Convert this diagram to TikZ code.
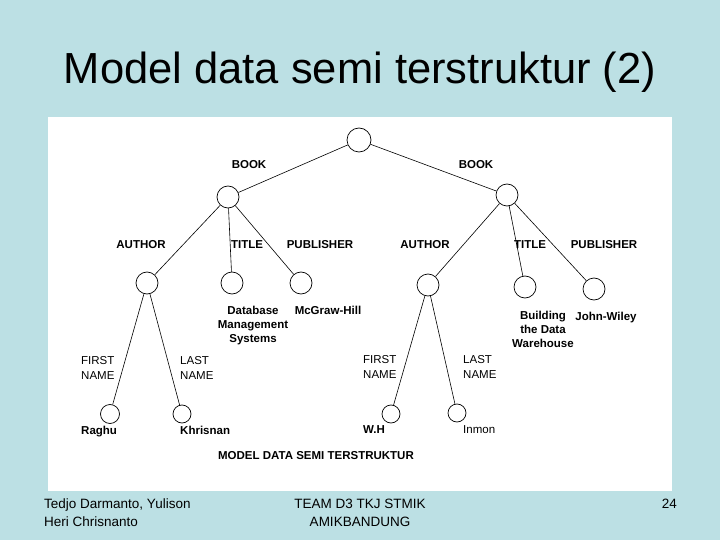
\documentclass[tikz,border=0pt]{standalone}
\usepackage{fontspec}
\setmainfont{Liberation Sans}
\definecolor{slidebg}{RGB}{188,224,228}
\begin{document}
\begin{tikzpicture}[x=1pt,y=-1pt,
  nd/.style={circle,draw=black,line width=0.7pt,inner sep=0pt,minimum size=#1},
  nd/.default=22pt,
  lbl/.style={font=\fontsize{11.5}{14}\selectfont\bfseries,inner sep=0pt,align=center},
  lbn/.style={font=\fontsize{11.5}{15}\selectfont,inner sep=0pt,align=left},
  edge/.style={draw=black,line width=0.6pt},
  foot/.style={font=\fontsize{13.5}{18}\selectfont,inner sep=0pt}]
\fill[slidebg] (0,0) rectangle (720,540);
\useasboundingbox (0,0) rectangle (720,540);
\fill[white] (48,117) rectangle (672,491);
\node[font=\fontsize{43.5}{50}\selectfont,inner sep=0pt,anchor=base] (title) at (360,84) {Model data semi terstruktur (2)};
% nodes
\node[nd=24pt] (root) at (359,140) {};
\node[nd] (bl) at (228,197) {};
\node[nd] (br) at (507,195) {};
\node[nd] (al) at (147,283) {};
\node[nd] (tl) at (232,283) {};
\node[nd] (pl) at (301,283) {};
\node[nd] (ar) at (428,285) {};
\node[nd] (tr) at (525,287) {};
\node[nd] (pr) at (594,289) {};
\node[nd=19pt] (l1) at (110,414) {};
\node[nd=18pt] (l2) at (182,414) {};
\node[nd=18pt] (l3) at (391,414) {};
\node[nd=18pt] (l4) at (457,413) {};
% edges
\draw[edge] (root) -- (bl);
\draw[edge] (root) -- (br);
\draw[edge] (bl) -- (al);
\draw[edge] (bl) -- (tl);
\draw[edge] (bl) -- (pl);
\draw[edge] (br) -- (ar);
\draw[edge] (br) -- (tr);
\draw[edge] (br) -- (pr);
\draw[edge] (al) -- (l1);
\draw[edge] (al) -- (l2);
\draw[edge] (ar) -- (l3);
\draw[edge] (ar) -- (l4);
% labels
\node[lbl,anchor=base] (bookl) at (249,168.5) {BOOK};
\node[lbl,anchor=base] (bookr) at (476,168.5) {BOOK};
\node[lbl,anchor=base] (authl) at (141,248.5) {AUTHOR};
\node[lbl,anchor=base] (titl) at (247,248.5) {TITLE};
\node[lbl,anchor=base] (publ) at (320,248.5) {PUBLISHER};
\node[lbl,anchor=base] (authr) at (425,248.5) {AUTHOR};
\node[lbl,anchor=base] (titr) at (530,248.5) {TITLE};
\node[lbl,anchor=base] (pubr) at (604,248.5) {PUBLISHER};
\node[lbl,anchor=base] (dbms1) at (253,314.5) {Database};
\node[lbl,anchor=base] (dbms2) at (253,328.5) {Management};
\node[lbl,anchor=base] (dbms3) at (253,342.5) {Systems};
\node[lbl,anchor=base] (mcg) at (328,314.5) {McGraw-Hill};
\node[lbl,anchor=base] (bdw1) at (543,319.5) {Building};
\node[lbl,anchor=base] (bdw2) at (543,333.5) {the Data};
\node[lbl,anchor=base] (bdw3) at (543,347.5) {Warehouse};
\node[lbl,anchor=base] (jw) at (606,320.5) {John-Wiley};
\node[lbn,anchor=base west] (fnl1) at (81,364.5) {FIRST};
\node[lbn,anchor=base west] (fnl2) at (81,379.5) {NAME};
\node[lbn,anchor=base west] (lnl1) at (180,364.5) {LAST};
\node[lbn,anchor=base west] (lnl2) at (180,379.5) {NAME};
\node[lbn,anchor=base west] (fnr1) at (363,363.5) {FIRST};
\node[lbn,anchor=base west] (fnr2) at (363,378.5) {NAME};
\node[lbn,anchor=base west] (lnr1) at (463,363.5) {LAST};
\node[lbn,anchor=base west] (lnr2) at (463,378.5) {NAME};
\node[lbl,anchor=base west] (raghu) at (81,434.5) {Raghu};
\node[lbl,anchor=base west] (khr) at (180,434.5) {Khrisnan};
\node[lbl,anchor=base west] (wh) at (363,433.5) {W.H};
\node[lbn,anchor=base west] (inm) at (463,433.5) {Inmon};
\node[lbl,anchor=base] (cap) at (316,459.5) {MODEL DATA SEMI TERSTRUKTUR};
% footer
\node[foot,anchor=base west] (f1a) at (44,508) {Tedjo Darmanto, Yulison};
\node[foot,anchor=base west] (f1b) at (44,526) {Heri Chrisnanto};
\node[foot,anchor=base] (f2a) at (360,508) {TEAM D3 TKJ STMIK};
\node[foot,anchor=base] (f2b) at (360,526) {AMIKBANDUNG};
\node[foot,anchor=base east] (f3) at (677,508) {24};
\end{tikzpicture}
\end{document}
